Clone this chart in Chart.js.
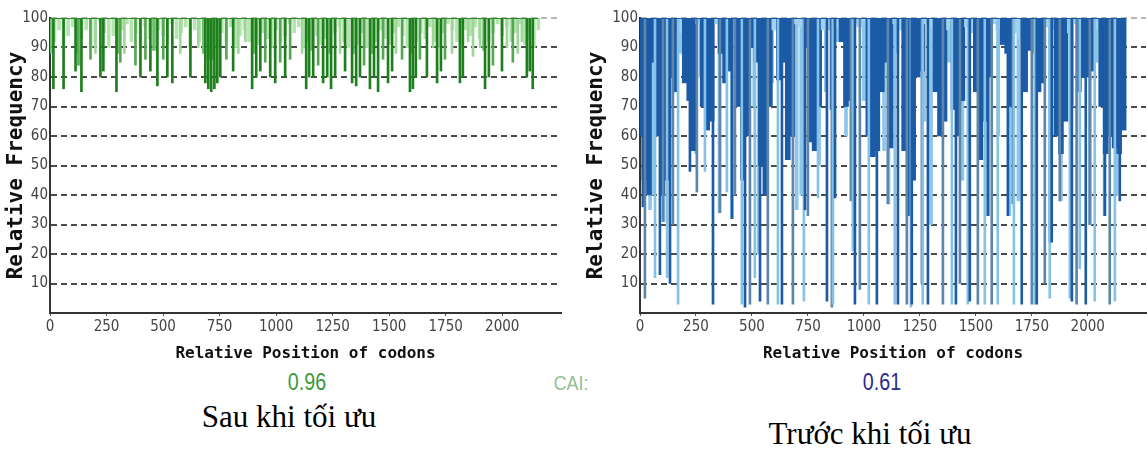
<!DOCTYPE html>
<html>
<head>
<meta charset="utf-8">
<script src="https://cdn.jsdelivr.net/npm/chart.js@4.4.0/dist/chart.umd.min.js"></script>
<style>
  body { margin: 0; background: #fff; width: 1147px; height: 450px; position: relative; overflow: hidden; }
  canvas { position: absolute; top: 0; }
  #afterChart { left: 0; }
  #beforeChart { left: 580px; }
  .lbl { position: absolute; white-space: nowrap; }
  .cai { font-family: 'Liberation Sans', Arial, sans-serif; }
  .cap { font-family: 'Liberation Serif', 'Times New Roman', serif; font-size: 31px; color: #000; }
</style>
</head>
<body>
<canvas id="afterChart" width="580" height="365"></canvas>
<canvas id="beforeChart" width="567" height="365"></canvas>

<div class="lbl cai" style="left:307px;top:382px;font-size:24px;color:#3c9a3c;transform:translate(-50%,-50%) scaleX(0.82)">0.96</div>
<div class="lbl cai" style="left:571px;top:383px;font-size:21px;color:#92c092;transform:translate(-50%,-50%) scaleX(0.85)">CAI:</div>
<div class="lbl cai" style="left:882px;top:382px;font-size:24px;color:#2b2b8c;transform:translate(-50%,-50%) scaleX(0.82)">0.61</div>
<div class="lbl cap" style="left:289px;top:417px;transform:translate(-50%,-50%)">Sau khi tối ưu</div>
<div class="lbl cap" style="left:870px;top:434px;transform:translate(-50%,-50%)">Trước khi tối ưu</div>

<script>
// axis ticks
const xTicks = [0, 250, 500, 750, 1000, 1250, 1500, 1750, 2000];
const yTicks = [0, 10, 20, 30, 40, 50, 60, 70, 80, 90, 100];

// optimised sequence: individual codon dips
const afterPos = [15, 60, 113, 126, 139, 179, 201, 223, 236, 294, 311, 329, 378, 400, 422, 444, 475, 501, 519, 541,
  576, 621, 656, 687, 700, 713, 727, 740, 753, 780, 810, 833, 864, 894, 912, 930, 952, 974, 996, 1018,
  1040, 1062, 1115, 1133, 1146, 1164, 1186, 1208, 1226, 1243, 1261, 1283, 1305, 1336, 1354, 1371, 1389, 1415, 1433, 1451,
  1473, 1495, 1513, 1530, 1557, 1592, 1605, 1618, 1636, 1667, 1694, 1712, 1729, 1747, 1778, 1813, 1826, 1849, 1871, 1902,
  1924, 1941, 1959, 1999, 2021, 2047, 2069, 2087, 2109, 2122, 2135];
const afterVal = [76, 76, 82, 84, 75, 86, 88, 80, 82, 75, 85, 88, 84, 80, 86, 82, 77, 86, 80, 78,
  88, 80, 90, 78, 76, 75, 76, 78, 80, 86, 82, 88, 92, 76, 80, 82, 85, 80, 78, 85,
  80, 86, 88, 76, 80, 80, 84, 78, 80, 76, 80, 88, 82, 78, 77, 80, 84, 76, 80, 75,
  86, 78, 82, 88, 86, 75, 76, 80, 86, 80, 90, 78, 82, 86, 88, 78, 80, 92, 87, 90,
  76, 80, 84, 82, 90, 85, 88, 92, 80, 82, 76];

// optimised sequence: dense shallow band, every 20 codons
const afterBandPos = [0, 20, 40, 60, 80, 100, 120, 140, 160, 180, 200, 220, 240, 260, 280, 300, 320, 340, 360, 380,
  400, 420, 440, 460, 480, 500, 520, 540, 560, 580, 600, 620, 640, 660, 680, 700, 720, 740, 760, 780,
  800, 820, 840, 860, 880, 900, 920, 940, 960, 980, 1000, 1020, 1040, 1060, 1080, 1100, 1120, 1140, 1160, 1180,
  1200, 1220, 1240, 1260, 1280, 1300, 1320, 1340, 1360, 1380, 1400, 1420, 1440, 1460, 1480, 1500, 1520, 1540, 1560, 1580,
  1600, 1620, 1640, 1660, 1680, 1700, 1720, 1740, 1760, 1780, 1800, 1820, 1840, 1860, 1880, 1900, 1920, 1940, 1960, 1980,
  2000, 2020, 2040, 2060, 2080, 2100, 2120, 2140, 2160];
const afterBandVal = [88, 92, 96, 90, 94, 97, 88, 93, 96, 90, 92, 99, 95, 90, 94, 88, 96, 98, 92, 95,
  90, 97, 93, 89, 96, 94, 91, 98, 93, 95, 97, 90, 96, 92, 88, 86, 86, 90, 95, 92,
  97, 90, 94, 96, 92, 88, 91, 95, 93, 90, 96, 92, 94, 98, 95, 97, 90, 92, 89, 94,
  91, 93, 88, 95, 97, 92, 90, 88, 91, 95, 90, 88, 92, 96, 93, 91, 95, 97, 94, 90,
  88, 92, 95, 93, 97, 92, 90, 95, 98, 96, 92, 90, 96, 94, 97, 93, 89, 92, 95, 98,
  94, 97, 92, 95, 98, 91, 93, 90, 96];

// original sequence: dark block depth, every 20 codons
const beforeBandPos = afterBandPos;
const beforeBandVal = [60, 45, 40, 85, 60, 40, 45, 80, 75, 95, 78, 72, 55, 98, 70, 62, 65, 98, 88, 78,
  82, 96, 70, 45, 60, 90, 85, 50, 40, 70, 96, 79, 85, 52, 60, 98, 97, 90, 58, 55,
  70, 96, 96, 69, 97, 92, 70, 72, 98, 97, 99, 60, 53, 55, 75, 85, 56, 98, 96, 55,
  33, 45, 80, 82, 98, 97, 75, 60, 65, 96, 69, 60, 72, 97, 95, 75, 52, 65, 80, 98,
  96, 91, 88, 70, 95, 93, 75, 89, 88, 75, 78, 97, 96, 60, 54, 65, 95, 98, 75, 80,
  80, 82, 96, 70, 54, 60, 56, 54, 62];

// original sequence: pale columns
const beforeLightPos = [45, 60, 105, 180, 250, 270, 355, 410, 440, 510, 530, 590, 700, 720, 800, 830, 880, 920, 1000,
  1090, 1110, 1150, 1270, 1300, 1380, 1440, 1470, 1555, 1600, 1650, 1690, 1830, 1880, 1930, 2010, 2040, 2075, 2130];
const beforeLightVal = [35, 40, 31, 88, 54, 80, 34, 32, 85, 70, 20, 78, 35, 40, 50, 75, 92, 60, 72,
  55, 37, 88, 65, 30, 85, 45, 88, 33, 60, 33, 38, 24, 38, 70, 30, 85, 33, 40];

// original sequence: deep single-codon dips
const beforeSpikePos = [13, 22, 67, 89, 103, 121, 134, 147, 170, 223, 254, 290, 326, 357, 388, 411, 424, 455, 469, 491,
  513, 536, 571, 616, 634, 683, 732, 737, 750, 795, 835, 857, 862, 871, 942, 951, 960, 982, 1022, 1058,
  1107, 1138, 1152, 1192, 1210, 1214, 1259, 1263, 1286, 1353, 1393, 1411, 1429, 1464, 1473, 1509, 1540, 1554, 1571, 1598,
  1643, 1665, 1670, 1705, 1750, 1763, 1772, 1808, 1830, 1839, 1875, 1920, 1929, 1950, 1964, 1991, 2009, 2031, 2076, 2098,
  2121, 2143];
const beforeSpikeVal = [36, 5, 12, 13, 31, 12, 10, 30, 3, 48, 41, 48, 3, 34, 41, 32, 40, 3, 2, 3,
  12, 4, 3, 3, 3, 3, 4, 35, 33, 39, 4, 2, 3, 39, 38, 21, 3, 8, 3, 3,
  37, 3, 3, 3, 2, 3, 10, 3, 3, 3, 3, 3, 10, 3, 4, 3, 3, 33, 3, 3,
  33, 37, 3, 3, 3, 3, 3, 10, 5, 24, 38, 5, 4, 3, 15, 3, 30, 4, 33, 3,
  4, 38];

const X_MAX = 2260;
const tickFont = "'Liberation Sans Narrow', 'DejaVu Sans Condensed', 'Liberation Sans', sans-serif";

function hanging(pos, val) {
  return pos.map((p, i) => ({ x: p, y: [val[i], 100] }));
}

function topEdge(pos) {
  return [{ x: pos[0], y: 100 }, { x: pos[pos.length - 1], y: 100 }];
}

function makeChart(id, yWidth, rightPad, datasets) {
  return new Chart(document.getElementById(id), {
    type: 'bar',
    data: { datasets: datasets },
    options: {
      responsive: false,
      animation: false,
      layout: { padding: { top: 18, right: rightPad, bottom: 2, left: 0 } },
      plugins: { legend: { display: false }, tooltip: { enabled: false } },
      scales: {
        x: {
          type: 'linear', min: 0, max: X_MAX, offset: false, z: 1,
          afterBuildTicks: s => { s.ticks = xTicks.map(v => ({ value: v })); },
          afterFit: s => { s.height = 50; },
          grid: { drawOnChartArea: false, drawTicks: true, tickLength: 3, color: '#555', offset: false },
          border: { display: true, color: '#333', width: 2 },
          ticks: { color: '#444', font: { family: tickFont, size: 15 }, padding: 2, maxRotation: 0, autoSkip: false,
            callback: v => String(v) },
          title: { display: true, text: 'Relative Position of codons', color: '#111',
            font: { family: "'DejaVu Sans Mono', monospace", size: 16, weight: 'bold' }, padding: 0 }
        },
        y: {
          min: 0, max: 100, z: 1,
          afterBuildTicks: s => { s.ticks = yTicks.map(v => ({ value: v })); },
          afterFit: s => { s.width = yWidth; },
          grid: {
            drawTicks: false, lineWidth: 2,
            color: c => c.tick.value === 0 ? 'rgba(0,0,0,0)' : (c.tick.value === 100 ? '#b8b8b8' : '#4a4a4a')
          },
          border: { display: true, color: '#333', width: 2, dash: [6, 4] },
          ticks: { color: '#444', font: { family: tickFont, size: 15 }, padding: 2,
            callback: v => v === 0 ? '' : String(v) },
          title: { display: true, text: 'Relative Frequency', color: '#111',
            font: { family: "'DejaVu Sans Mono', monospace", size: 21, weight: 'bold' }, padding: { top: 4, bottom: 0 } }
        }
      }
    }
  });
}

const greenTone = v => v <= 82 ? '#1c7f1c' : (v <= 86 ? '#55a655' : '#9fd79a');
const spikeTones = ['#1d5ba4', '#5d86aa', '#86c2e6'];

makeChart('afterChart', 50, 19, [
  {
    type: 'line', data: topEdge(afterBandPos), borderColor: '#2a8a2a', borderWidth: 2,
    pointRadius: 0, order: 0
  },
  {
    data: hanging(afterPos, afterVal), grouped: false, barThickness: 2, borderWidth: 0,
    backgroundColor: c => greenTone(c.raw.y[0]), order: 1
  },
  {
    data: hanging(afterBandPos, afterBandVal), grouped: false, barThickness: 3, borderWidth: 0,
    backgroundColor: c => c.raw.y[0] < 90 ? '#6fbf6a' : '#b5e4ae', order: 2
  }
]);

makeChart('beforeChart', 60, 1, [
  {
    type: 'line', data: topEdge(beforeBandPos), borderColor: '#1b58a3', borderWidth: 2,
    pointRadius: 0, order: 0
  },
  {
    data: hanging(beforeSpikePos, beforeSpikeVal), grouped: false, barThickness: 2, borderWidth: 0,
    backgroundColor: c => spikeTones[c.dataIndex % 3], order: 1
  },
  {
    data: hanging(beforeBandPos, beforeBandVal), grouped: false, barThickness: 5, borderWidth: 0,
    backgroundColor: c => c.raw.y[0] > 92 ? '#9fd2f0' : '#1b5aa6', order: 2
  },
  {
    data: hanging(beforeLightPos, beforeLightVal), grouped: false, barThickness: 3, borderWidth: 0,
    backgroundColor: '#8cc6ea', order: 3
  }
]);
</script>
</body>
</html>
